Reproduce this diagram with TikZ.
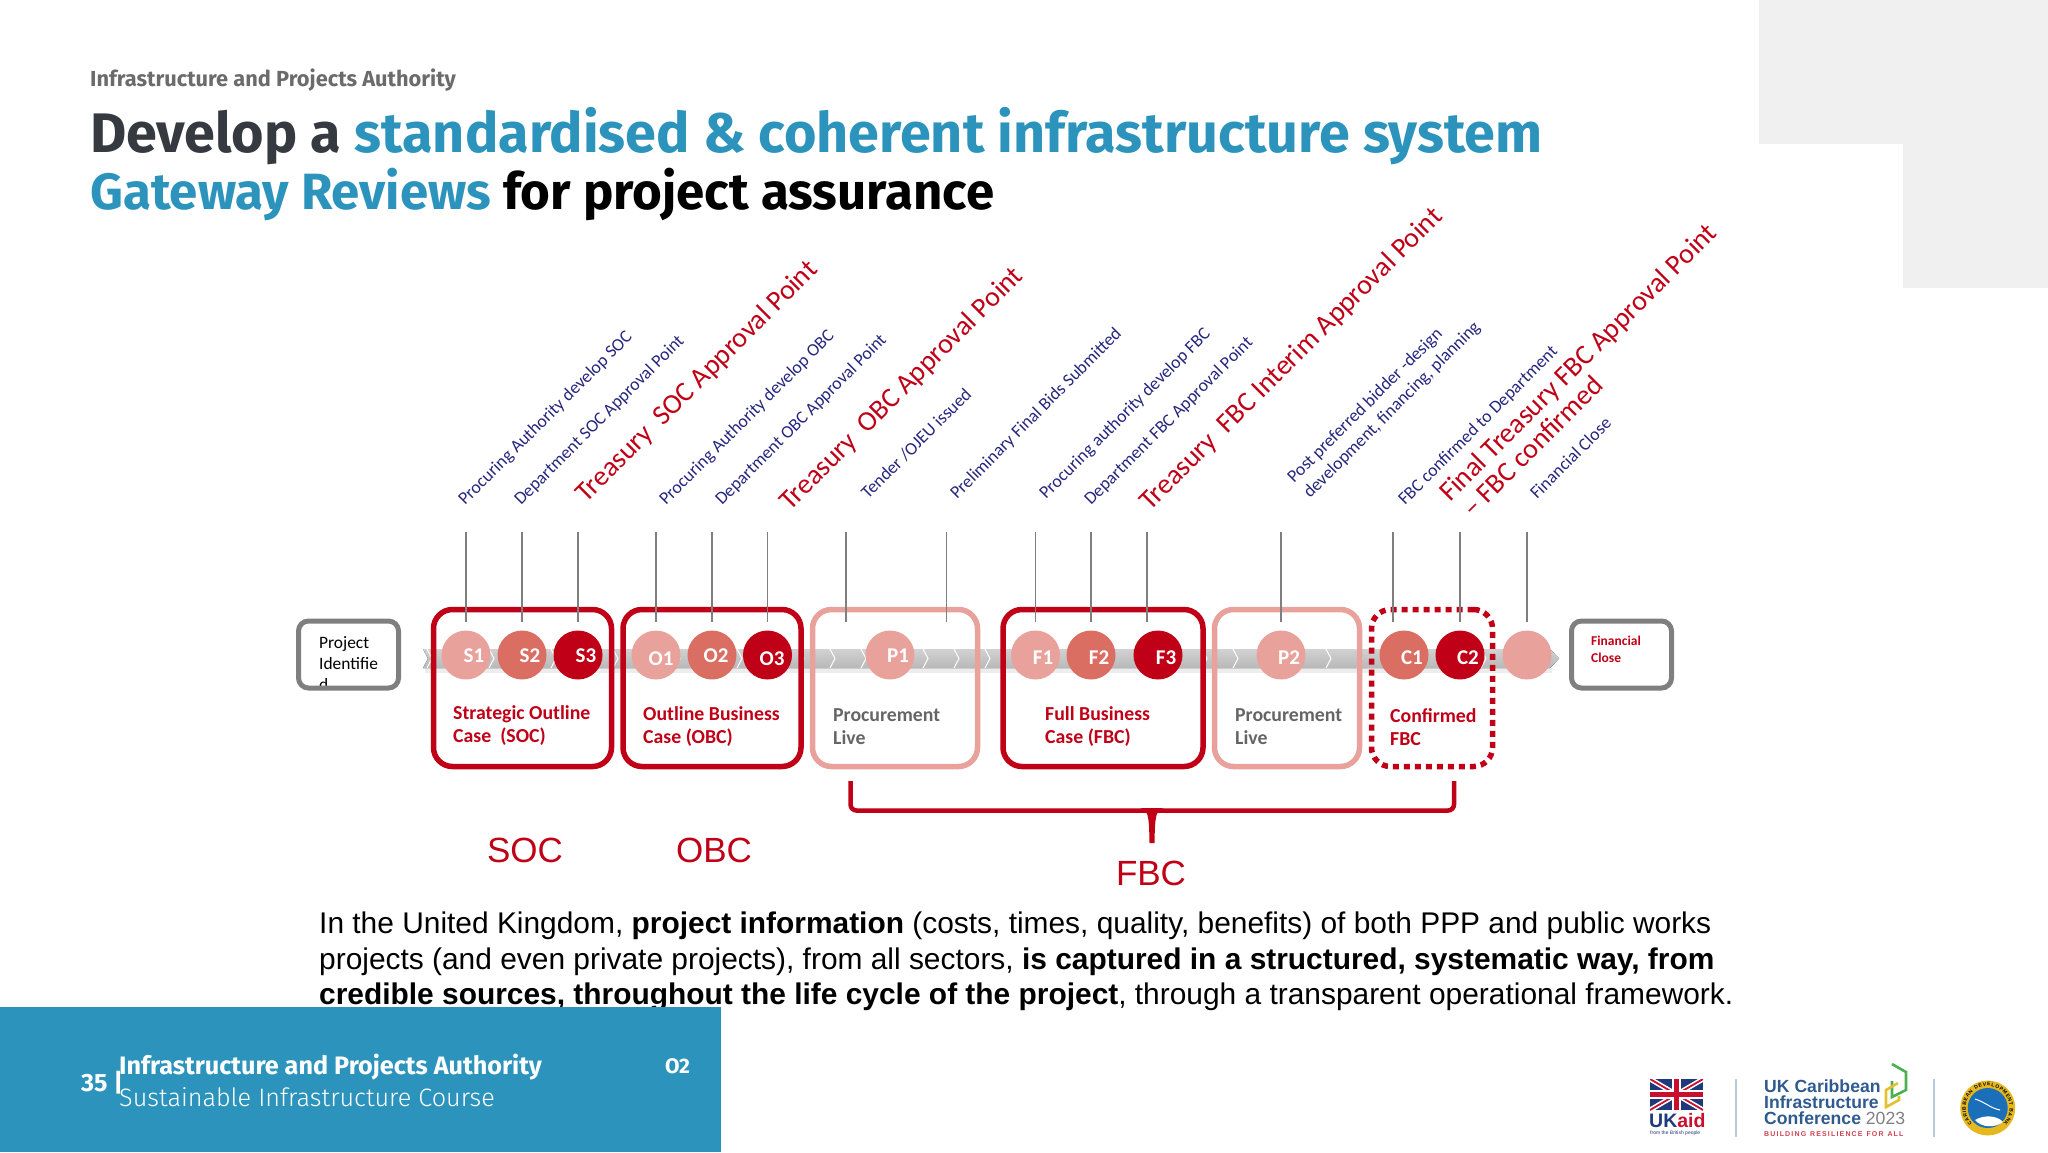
\documentclass[tikz,border=0pt]{standalone}
\usepackage{fontspec}
\setmainfont{Carlito}
\newfontfamily\armfont{Liberation Sans}
\newfontfamily\headfont{Fira Sans}
\newfontfamily\headlight{Fira Sans Light}
\usetikzlibrary{arrows.meta,positioning,calc,decorations.text}
\definecolor{ipablue}{HTML}{2C94BC}
\definecolor{ink}{HTML}{353A40}
\definecolor{headgrey}{HTML}{6B6B6B}
\definecolor{paleblock}{HTML}{F0F0F0}
\definecolor{brick}{HTML}{C00016}
\definecolor{midred}{HTML}{DB6E62}
\definecolor{palered}{HTML}{E8A29B}
\definecolor{navytxt}{HTML}{26267F}
\definecolor{tickgrey}{HTML}{7F7F7F}
\definecolor{bandgrey}{HTML}{C2C2C2}
\definecolor{ukblue}{HTML}{2F5A8F}
\definecolor{sepblue}{HTML}{B7CAD6}
\definecolor{flagblue}{HTML}{1F3A7A}
\definecolor{flagred}{HTML}{C8102E}
\definecolor{cdbgold}{HTML}{E6B81F}
\definecolor{cdbblue}{HTML}{1A6FB8}
\definecolor{loopgreen}{HTML}{4CAF50}
\definecolor{loopyellow}{HTML}{E3C12F}
\tikzset{
  stage/.style   ={rounded corners=19pt,line width=5.5pt,minimum height=157pt,inner sep=0pt},
  endbox/.style  ={draw=tickgrey,rounded corners=10pt,line width=5pt,minimum width=100pt,
                   minimum height=67pt,inner sep=0pt},
  dot/.style     ={circle,minimum size=49pt,inner sep=0pt},
  dotlbl/.style  ={font=\fontsize{21}{24}\selectfont\bfseries,text=white,inner sep=0pt},
  caselbl/.style ={font=\fontsize{19.8}{23}\selectfont\bfseries,align=left,anchor=west,inner sep=0pt},
  steplbl/.style ={font=\fontsize{17.8}{20}\selectfont,text=navytxt,rotate=45,anchor=base west,inner sep=0pt},
  gatelbl/.style ={font=\fontsize{28}{29}\selectfont,text=brick,rotate=45,anchor=base west,inner sep=0pt},
  tickline/.style={draw=tickgrey,line width=1.6pt},
  biglbl/.style  ={font=\armfont\fontsize{35}{40}\selectfont,text=brick,inner sep=0pt},
  foot/.style    ={text=white,anchor=west,inner sep=0pt},
  conf/.style    ={font=\armfont\bfseries\fontsize{17.6}{17}\selectfont,text=ukblue,anchor=west,inner sep=0pt},
}
\begin{document}
\begin{tikzpicture}[x=1pt,y=-1pt]
\useasboundingbox (0,0) rectangle (2048,1152);
% corner blocks
\fill[paleblock] (1759,0) rectangle (2048,144);
\fill[paleblock] (1903,144) rectangle (2048,288);
% heading
\node[font=\headfont\bfseries\fontsize{21.8}{24}\selectfont,text=headgrey,anchor=west,inner sep=0pt] (org) at (90,80)
  {Infrastructure and Projects Authority};
\node[font=\headfont\bfseries\fontsize{55.7}{58}\selectfont,anchor=west,inner sep=0pt] (title1) at (90,136)
  {\textcolor{ink}{Develop a} \textcolor{ipablue}{standardised \& coherent infrastructure system}};
\node[font=\headfont\bfseries\fontsize{51}{58}\selectfont,anchor=west,inner sep=0pt] (title2) at (90,194)
  {\textcolor{ipablue}{Gateway Reviews} \textcolor{black}{for project assurance}};
% chevron band
\fill[bandgrey!30] (425,668) rectangle (1552,673);
\fill[top color=bandgrey!75,bottom color=bandgrey!95!black] (423,649) -- (1550,649) -- (1559,658.5) -- (1550,668)
  -- (423,668) -- (428,658.5) -- cycle;
\foreach \x in {427,458,...,1550}
  \draw[white,line width=1pt] (\x,649) -- (\x+5,658.5) -- (\x,668);
% stage boxes
\node[stage,draw=brick,minimum width=178pt] (soc) at (522.5,688) {};
\node[stage,draw=brick,minimum width=178pt] (obc) at (712,688) {};
\node[stage,draw=palered,minimum width=165pt] (live1) at (895,688) {};
\node[stage,draw=brick,minimum width=200pt] (fbc) at (1103,688) {};
\node[stage,draw=palered,minimum width=145pt] (live2) at (1287,688) {};
\node[stage,draw=brick,minimum width=121pt,dash pattern=on 6pt off 5pt] (conf) at (1432,688) {};
% ticks
\foreach \x [count=\i] in {466,522,578,656,712,767.5,846,946.5,1035.5,1091,1147,1281,1393,1460,1527}
  {\coordinate (tt\i) at (\x,532);
   \coordinate (tb\i) at (\x,622);
   \draw[tickline] (tt\i) -- (tb\i);}
% dots
\foreach \nm/\x/\col/\lx/\ly/\lab in {s1/466/palered/474/656/S1, s2/522/midred/530/656/S2, s3/578/brick/586/656/S3,
    o1/656/palered/661/659/O1, o2/712/midred/716/656/O2, o3/767.5/brick/772/659/O3,
    p1/890/palered/898/656/P1, f1/1035.5/palered/1043/658/F1, f2/1091/midred/1099/658/F2,
    f3/1158/brick/1166/658/F3, p2/1281/palered/1289/658/P2, c1/1404/midred/1412/658/C1,
    c2/1460/brick/1468/658/C2}
  {\node[dot,fill=\col] (\nm) at (\x,655) {};
   \node[dotlbl] (\nm lbl) at (\lx,\ly) {\lab};}
\node[dot,fill=palered] (c3) at (1527,655) {};
% case labels
\node[caselbl,text=brick] (soclbl) at (453,726) {Strategic Outline\\Case\ \ (SOC)};
\node[caselbl,text=brick] (obclbl) at (643,727) {Outline Business\\Case (OBC)};
\node[caselbl,text=tickgrey!80!black] (live1lbl) at (833,727) {Procurement\\Live};
\node[caselbl,text=brick] (fbclbl) at (1045,727) {Full Business\\Case (FBC)};
\node[caselbl,text=tickgrey!80!black] (live2lbl) at (1235,727) {Procurement\\Live};
\node[caselbl,text=brick] (conflbl) at (1390,727) {Confirmed\\FBC};
% end boxes
\node[font=\fontsize{17.4}{21}\selectfont,align=left,anchor=north west,inner sep=0pt] (projlbl) at (319,636)
  {Project\\Identifie\\d};
\node[endbox] (proj) at (348.5,654.5) {};
\node[endbox] (close) at (1621.5,654.5) {};
\node[font=\fontsize{13.5}{17}\selectfont\bfseries,align=left,anchor=west,inner sep=0pt,text=brick] (closelbl) at (1591,649.5)
  {Financial\\Close};
% rotated labels
\node[steplbl] (n1) at (465,506) {Procuring Authority develop SOC};
\node[steplbl] (n2) at (521,506) {Department SOC Approval Point};
\node[gatelbl] (n3) at (586,504) {Treasury\ \ SOC Approval Point};
\node[steplbl] (n4) at (666,506) {Procuring Authority develop OBC};
\node[steplbl] (n5) at (722,506) {Department OBC Approval Point};
\node[gatelbl] (n6) at (790,512) {Treasury\ \ OBC Approval Point};
\node[steplbl] (n7) at (868,500) {Tender /OJEU issued};
\node[steplbl] (n8) at (957,500) {Preliminary Final Bids Submitted};
\node[steplbl] (n9) at (1046,500) {Procuring authority develop FBC};
\node[steplbl] (n10) at (1091,506) {Department FBC Approval Point};
\node[gatelbl] (n11) at (1150,512) {Treasury\ \ FBC Interim Approval Point};
\node[steplbl] (n12) at (1294,484) {Post preferred bidder -design};
\node[steplbl] (n13) at (1310,499) {development, financing, planning};
\node[steplbl] (n14) at (1405,506) {FBC confirmed to Department};
\node[gatelbl] (n15) at (1450,503) {Final Treasury FBC Approval Point};
\node[gatelbl] (n16) at (1473,519) {-- FBC confirmed};
\node[steplbl] (n17) at (1537,500) {Financial Close};
% brace
\draw[brick,line width=4.5pt,rounded corners=6pt] (850.5,781) -- (850.5,810.5) -- (1454,810.5) -- (1454,781);
\fill[brick] (1140,808) .. controls (1148,810) and (1149,814) .. (1149.5,843) -- (1154.5,843)
  .. controls (1155,814) and (1156,810) .. (1164,808) -- cycle;
\node[biglbl] (soctxt) at (525,850) {SOC};
\node[biglbl] (obctxt) at (714,850) {OBC};
\node[biglbl] (fbctxt) at (1151,873) {FBC};
% body text
\node[font=\armfont\fontsize{29.9}{35.7}\selectfont,align=left,anchor=north west,inner sep=0pt] (body) at (319,911.5)
  {In the United Kingdom, \textbf{project information} (costs, times, quality, benefits) of both PPP and public works\\
   projects (and even private projects), from all sectors, \textbf{is captured in a structured, systematic way, from}\\
   \textbf{credible sources, throughout the life cycle of the project}, through a transparent operational framework.};
% footer
\fill[ipablue] (0,1007) rectangle (721,1152);
\node[foot,font=\headfont\bfseries\fontsize{25}{30}\selectfont] (pageno) at (81,1083) {35 |};
\node[foot,font=\headfont\bfseries\fontsize{25.2}{30}\selectfont] (foot1) at (119,1067) {Infrastructure and Projects Authority};
\node[foot,font=\headlight\fontsize{25.2}{30}\selectfont] (foot2) at (119,1097) {Sustainable Infrastructure Course};
\node[foot,font=\headfont\bfseries\fontsize{21}{25}\selectfont] (foot3) at (665,1066) {O2};
% logos
\begin{scope}
  \clip (1650,1079) rectangle (1703,1110);
  \fill[flagblue] (1650,1079) rectangle (1703,1110);
  \draw[white,line width=5pt] (1650,1079) -- (1703,1110) (1650,1110) -- (1703,1079);
  \draw[flagred,line width=1.8pt] (1650,1079) -- (1703,1110) (1650,1110) -- (1703,1079);
  \draw[white,line width=9pt] (1676.5,1079) -- (1676.5,1110) (1650,1094.5) -- (1703,1094.5);
  \draw[flagred,line width=5pt] (1676.5,1079) -- (1676.5,1110) (1650,1094.5) -- (1703,1094.5);
\end{scope}
\node[font=\armfont\bfseries\fontsize{19.5}{22}\selectfont,anchor=west,inner sep=0pt] (ukaid) at (1649,1121)
  {\textcolor{flagblue}{UK}\textcolor{flagred}{aid}};
\node[font=\armfont\fontsize{5}{6}\selectfont,anchor=west,inner sep=0pt,text=flagblue] (ukpeople) at (1650,1133) {from the British people};
\draw[sepblue,line width=1.2pt] (1736,1079) -- (1736,1137);
\draw[sepblue,line width=1.2pt] (1934,1079) -- (1934,1137);
\node[conf] (c1txt) at (1764,1086) {UK Caribbean};
\node[conf] (c2txt) at (1764,1102) {Infrastructure};
\node[conf] (c3txt) at (1764,1118) {Conference \textcolor{gray}{\mdseries 2023}};
\node[font=\armfont\bfseries\fontsize{7}{9}\selectfont,anchor=west,inner sep=0pt,text=brick!75!white] (c4txt) at (1764,1134)
  {B\,U\,I\,L\,D\,I\,N\,G\ \ R\,E\,S\,I\,L\,I\,E\,N\,C\,E\ \ F\,O\,R\ \ A\,L\,L};
\draw[loopgreen,line width=2.6pt] (1892,1064) -- (1906,1072) -- (1906,1090) -- (1892,1097) -- (1892,1081);
\draw[loopyellow,line width=2.6pt] (1898,1083) -- (1886,1090) -- (1886,1107) -- (1899,1100) -- (1899,1096);
\fill[cdbgold] (1987.7,1108) circle (27.5);
\fill[cdbblue] (1987.7,1108) circle (20);
\draw[white,line width=1pt] (1975,1099) .. controls (1985,1102) and (1990,1108) .. (2000,1110);
\fill[white] (1975,1120) .. controls (1985,1114) and (1998,1116) .. (2003,1122) .. controls (1995,1128) and (1982,1128) .. (1975,1120) -- cycle;
\path[decorate,decoration={text along path,text align=fit to path,
   text={|\armfont\bfseries\fontsize{5}{6}\selectfont|CARIBBEAN DEVELOPMENT BANK}}]
  (1987.7,1108) ++(135:22) arc (135:405:22);
\end{tikzpicture}
\end{document}
